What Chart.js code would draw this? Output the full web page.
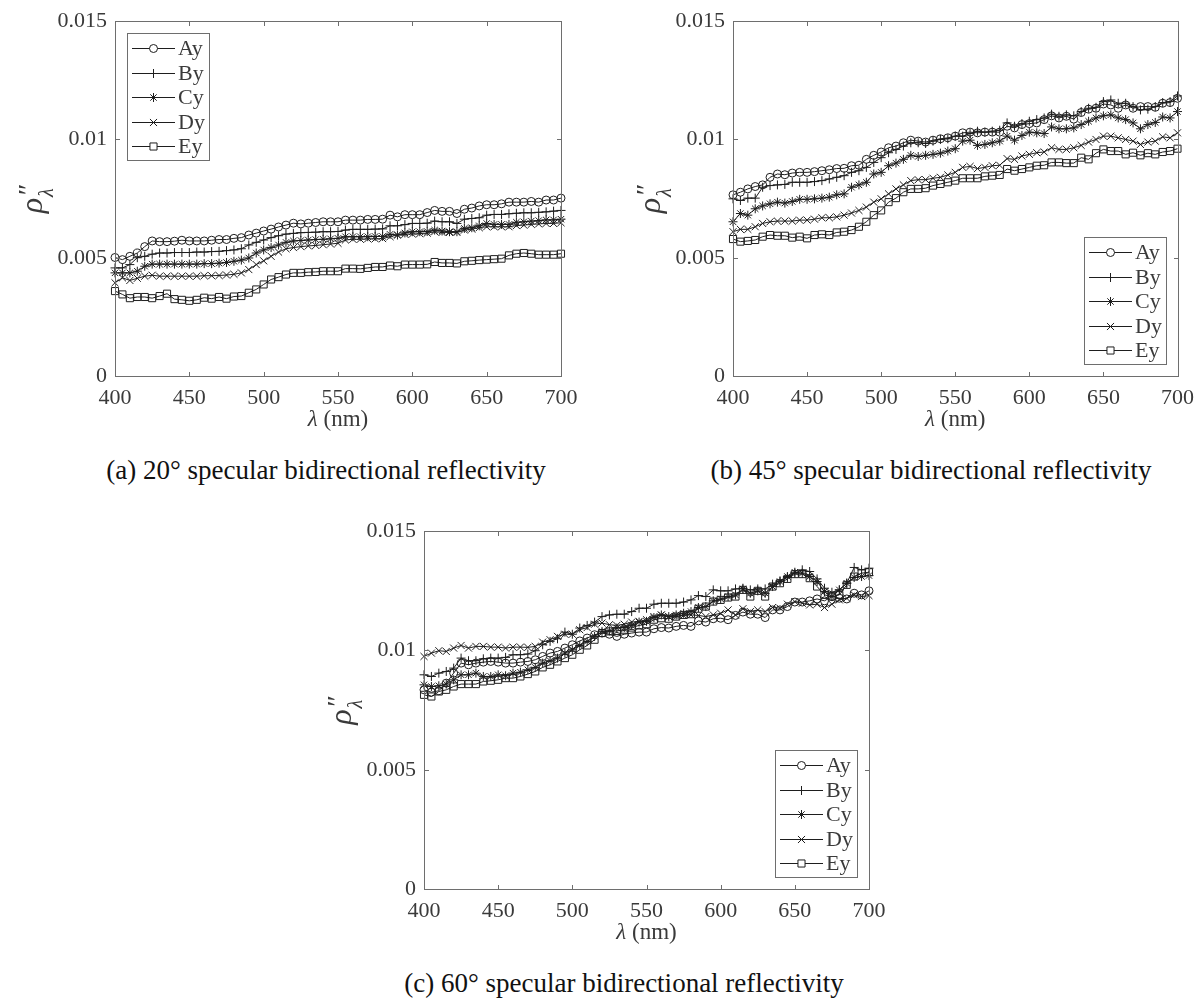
<!DOCTYPE html>
<html>
<head>
<meta charset="utf-8">
<title>Specular bidirectional reflectivity</title>
<script src="https://cdn.jsdelivr.net/npm/chart.js@4.4.1/dist/chart.umd.min.js"></script>
<style>
    html, body { margin: 0; padding: 0; background: #fff; }
    #page {
        position: relative;
        width: 1203px;
        height: 1003px;
        overflow: hidden;
        font-family: 'Liberation Serif', 'Times New Roman', serif;
    }
    #page canvas { position: absolute; }
    .caption {
        position: absolute;
        font-size: 27px;
        line-height: 30px;
        color: #111;
        white-space: nowrap;
        transform: translateX(-50%);
    }
</style>
</head>
<body>
<div id="page">
    <canvas id="chartA" width="600" height="440" style="left:0px;top:0px"></canvas>
    <canvas id="chartB" width="603" height="440" style="left:600px;top:0px"></canvas>
    <canvas id="chartC" width="600" height="440" style="left:300px;top:510px"></canvas>
    <div class="caption" style="left:326px;top:455px">(a) 20° specular bidirectional reflectivity</div>
    <div class="caption" style="left:931px;top:455px">(b) 45° specular bidirectional reflectivity</div>
    <div class="caption" style="left:624px;top:968px">(c) 60° specular bidirectional reflectivity</div>
</div>

<script>
/**
 * Spectral specular bidirectional reflectivity, samples A-E (y polarisation)
 */

// Wavelengths (nm)
const WAVELENGTHS = [
    400, 405, 410, 415, 420, 425, 430, 435, 440, 445, 450, 455, 460, 465, 470, 475,
    480, 485, 490, 495, 500, 505, 510, 515, 520, 525, 530, 535, 540, 545, 550, 555,
    560, 565, 570, 575, 580, 585, 590, 595, 600, 605, 610, 615, 620, 625, 630, 635,
    640, 645, 650, 655, 660, 665, 670, 675, 680, 685, 690, 695, 700
];

const SERIES_LABELS = ['Ay', 'By', 'Cy', 'Dy', 'Ey'];

const X_TICKS = [400, 450, 500, 550, 600, 650, 700];
const Y_TICKS = [0, 0.005, 0.01, 0.015];
const Y_TICK_LABELS = ['0', '0.005', '0.01', '0.015'];

// (a) 20 deg
const A20_AY = [.00501,.00492,.00506,.00520,.00547,.00571,.00568,.00568,.00570,.00574,.00571,.00571,.00571,.00574,.00577,.00577,
    .00582,.00585,.00596,.00604,.00613,.00621,.00630,.00638,.00646,.00643,.00646,.00649,.00652,.00652,.00652,.00659,
    .00659,.00659,.00662,.00662,.00663,.00680,.00673,.00682,.00682,.00682,.00691,.00700,.00696,.00696,.00687,.00705,
    .00710,.00719,.00724,.00724,.00728,.00735,.00735,.00735,.00738,.00735,.00744,.00744,.00752];
const A20_BY = [.00457,.00457,.00471,.00500,.00506,.00515,.00520,.00520,.00522,.00522,.00522,.00524,.00524,.00526,.00527,.00530,
    .00533,.00538,.00554,.00565,.00575,.00585,.00593,.00600,.00603,.00606,.00607,.00608,.00610,.00610,.00611,.00617,
    .00620,.00620,.00620,.00621,.00622,.00635,.00635,.00640,.00645,.00645,.00646,.00655,.00652,.00652,.00645,.00663,
    .00666,.00669,.00680,.00683,.00683,.00686,.00688,.00690,.00690,.00692,.00694,.00697,.00700];
const A20_CY = [.00436,.00436,.00436,.00443,.00464,.00473,.00473,.00473,.00473,.00473,.00473,.00473,.00475,.00475,.00477,.00480,
    .00485,.00490,.00499,.00520,.00533,.00543,.00554,.00565,.00571,.00573,.00575,.00577,.00578,.00580,.00582,.00589,
    .00589,.00589,.00589,.00590,.00590,.00599,.00596,.00605,.00610,.00610,.00611,.00617,.00613,.00610,.00610,.00624,
    .00627,.00635,.00645,.00641,.00641,.00641,.00650,.00652,.00655,.00657,.00660,.00660,.00663];
const A20_DY = [.00394,.00415,.00404,.00413,.00422,.00426,.00422,.00422,.00422,.00422,.00422,.00422,.00424,.00424,.00425,.00427,
    .00430,.00436,.00450,.00471,.00487,.00506,.00524,.00538,.00543,.00547,.00550,.00552,.00555,.00558,.00561,.00575,
    .00578,.00578,.00580,.00580,.00581,.00589,.00596,.00599,.00600,.00602,.00604,.00610,.00607,.00607,.00607,.00617,
    .00621,.00627,.00631,.00631,.00631,.00631,.00636,.00638,.00641,.00643,.00645,.00645,.00648];
const A20_EY = [.00359,.00345,.00329,.00334,.00334,.00329,.00338,.00348,.00325,.00322,.00318,.00322,.00331,.00327,.00334,.00327,
    .00336,.00338,.00352,.00366,.00387,.00408,.00418,.00429,.00436,.00436,.00439,.00440,.00443,.00443,.00443,.00454,
    .00454,.00453,.00457,.00461,.00461,.00467,.00464,.00471,.00471,.00471,.00472,.00482,.00478,.00478,.00476,.00485,
    .00487,.00490,.00492,.00494,.00496,.00510,.00517,.00520,.00517,.00513,.00513,.00513,.00517];

// (b) 45 deg
const B45_AY = [.00766,.00777,.00791,.00801,.00808,.00840,.00854,.00851,.00858,.00861,.00861,.00864,.00868,.00872,.00877,.00878,
    .00889,.00891,.00916,.00933,.00947,.00965,.00972,.00986,.00997,.00993,.00989,.00997,.01003,.01007,.01014,.01028,
    .01031,.01028,.01031,.01031,.01031,.01056,.01049,.01063,.01067,.01070,.01084,.01100,.01091,.01098,.01086,.01114,
    .01128,.01132,.01150,.01146,.01132,.01146,.01132,.01139,.01139,.01136,.01153,.01156,.01174];
const B45_BY = [.00749,.00742,.00752,.00752,.00798,.00805,.00808,.00810,.00819,.00819,.00819,.00822,.00826,.00833,.00840,.00847,
    .00861,.00868,.00882,.00903,.00923,.00944,.00958,.00972,.00986,.00986,.00983,.00993,.01000,.01003,.01014,.01014,
    .01025,.01035,.01031,.01035,.01039,.01070,.01056,.01067,.01077,.01084,.01091,.01107,.01098,.01104,.01100,.01118,
    .01132,.01136,.01160,.01167,.01153,.01153,.01139,.01125,.01128,.01139,.01156,.01160,.01184];
const B45_CY = [.00652,.00687,.00680,.00707,.00719,.00728,.00735,.00731,.00738,.00747,.00747,.00749,.00752,.00756,.00766,.00770,
    .00798,.00808,.00819,.00854,.00861,.00889,.00900,.00916,.00933,.00928,.00933,.00937,.00942,.00951,.00961,.00993,
    .00997,.00975,.00979,.00986,.00993,.01014,.00997,.01017,.01031,.01028,.01025,.01053,.01045,.01045,.01049,.01063,
    .01077,.01091,.01100,.01104,.01091,.01084,.01070,.01045,.01063,.01072,.01095,.01091,.01118];
const B45_DY = [.00610,.00620,.00620,.00631,.00645,.00652,.00655,.00655,.00655,.00659,.00659,.00663,.00669,.00669,.00673,.00680,
    .00689,.00700,.00714,.00735,.00749,.00770,.00791,.00808,.00826,.00830,.00830,.00836,.00840,.00850,.00861,.00882,
    .00886,.00877,.00882,.00889,.00891,.00919,.00916,.00930,.00937,.00944,.00947,.00965,.00958,.00958,.00965,.00975,
    .00989,.01000,.01014,.01014,.01007,.01000,.00993,.00979,.00989,.00993,.01011,.01007,.01028];
const B45_EY = [.00579,.00568,.00571,.00575,.00589,.00596,.00593,.00593,.00585,.00589,.00582,.00596,.00599,.00596,.00607,.00610,
    .00617,.00631,.00652,.00680,.00700,.00735,.00752,.00777,.00791,.00791,.00794,.00805,.00812,.00819,.00826,.00836,
    .00836,.00836,.00844,.00847,.00850,.00875,.00868,.00875,.00882,.00889,.00891,.00903,.00903,.00900,.00900,.00923,
    .00916,.00942,.00958,.00951,.00951,.00937,.00944,.00933,.00942,.00937,.00947,.00951,.00961];

// (c) 60 deg
const C60_AY = [.00835,.00825,.00831,.00863,.00905,.00947,.00940,.00947,.00951,.00954,.00951,.00947,.00947,.00951,.00954,.00961,
    .00975,.00989,.00996,.01010,.01024,.01040,.01052,.01066,.01073,.01068,.01059,.01068,.01073,.01077,.01077,.01091,
    .01096,.01094,.01101,.01105,.01101,.01124,.01119,.01133,.01135,.01129,.01147,.01161,.01152,.01152,.01138,.01170,
    .01170,.01184,.01203,.01203,.01208,.01216,.01208,.01226,.01219,.01216,.01240,.01233,.01250];
const C60_BY = [.00898,.00891,.00905,.00912,.00926,.00968,.00957,.00957,.00965,.00968,.00968,.00971,.00982,.00982,.00985,.00999,
    .01024,.01038,.01049,.01077,.01068,.01094,.01105,.01119,.01142,.01149,.01152,.01152,.01163,.01177,.01177,.01194,
    .01198,.01198,.01198,.01203,.01212,.01230,.01226,.01254,.01250,.01250,.01258,.01261,.01254,.01258,.01258,.01278,
    .01292,.01306,.01324,.01338,.01331,.01300,.01261,.01244,.01254,.01282,.01348,.01338,.01345];
const C60_CY = [.00856,.00849,.00852,.00859,.00877,.00898,.00898,.00905,.00891,.00891,.00898,.00894,.00905,.00909,.00919,.00929,
    .00947,.00957,.00968,.00989,.01003,.01021,.01038,.01059,.01080,.01082,.01094,.01096,.01105,.01119,.01122,.01138,
    .01149,.01142,.01149,.01156,.01163,.01180,.01184,.01208,.01216,.01226,.01233,.01258,.01240,.01250,.01240,.01268,
    .01289,.01310,.01328,.01324,.01310,.01289,.01247,.01226,.01254,.01282,.01306,.01310,.01314];
const C60_DY = [.00975,.00989,.00999,.00996,.01010,.01021,.01010,.01017,.01017,.01014,.01014,.01010,.01014,.01014,.01013,.01017,
    .01035,.01045,.01059,.01068,.01068,.01087,.01096,.01110,.01115,.01108,.01105,.01110,.01119,.01122,.01129,.01142,
    .01149,.01142,.01142,.01147,.01149,.01147,.01142,.01149,.01156,.01170,.01149,.01175,.01163,.01170,.01163,.01180,
    .01177,.01194,.01205,.01198,.01191,.01194,.01180,.01194,.01212,.01219,.01233,.01226,.01230];
const C60_EY = [.00814,.00807,.00828,.00835,.00849,.00859,.00859,.00859,.00870,.00873,.00877,.00884,.00884,.00891,.00901,.00912,
    .00929,.00940,.00954,.00968,.00982,.01003,.01021,.01045,.01073,.01080,.01082,.01087,.01096,.01105,.01110,.01129,
    .01135,.01133,.01142,.01149,.01152,.01175,.01184,.01205,.01212,.01222,.01226,.01254,.01226,.01250,.01226,.01268,
    .01282,.01300,.01320,.01320,.01303,.01268,.01233,.01226,.01233,.01275,.01310,.01324,.01328];

// Styling
const LINE_COLOR = '#1e1e1e';
const AXIS_COLOR = '#6e6e6e';
const TEXT_COLOR = '#3a3a3a';
const FONT_FAMILY = "'Liberation Serif', 'Times New Roman', serif";
const TICK_LEN = 4.5;

// Marker per sample: o, +, *, x, square
const MARKERS = [
    { style: 'circle', radius: 4 },
    { style: 'cross', radius: 4.5 },
    { style: 'star', radius: 4.5 },
    { style: 'crossRot', radius: 5 },
    { style: 'rect', radius: 5 }
];

/**
 * Draw a marker (uses Chart.js helper when available)
 */
function drawMarker(ctx, style, radius, x, y) {
    if (Chart.helpers && Chart.helpers.drawPoint) {
        Chart.helpers.drawPoint(ctx, { pointStyle: style, radius: radius, borderWidth: 1, rotation: 0 }, x, y);
        return;
    }
    ctx.beginPath();
    ctx.arc(x, y, radius, 0, Math.PI * 2);
    ctx.stroke();
}

/**
 * Frame plugin: box, inward ticks, axis titles and the boxed legend
 */
const framePlugin = {
    id: 'frame',
    afterDraw(chart, args, opts) {
        const { ctx, chartArea: a, scales } = chart;
        const L = Math.round(a.left) + 0.5, R = Math.round(a.right) + 0.5;
        const T = Math.round(a.top) + 0.5, B = Math.round(a.bottom) + 0.5;

        ctx.save();
        ctx.strokeStyle = AXIS_COLOR;
        ctx.lineWidth = 1;
        ctx.strokeRect(L, T, R - L, B - T);

        // inward ticks on all four sides
        ctx.beginPath();
        X_TICKS.slice(1, -1).forEach(v => {
            const px = Math.round(scales.x.getPixelForValue(v)) + 0.5;
            ctx.moveTo(px, B); ctx.lineTo(px, B - TICK_LEN);
            ctx.moveTo(px, T); ctx.lineTo(px, T + TICK_LEN);
        });
        Y_TICKS.slice(1, -1).forEach(v => {
            const py = Math.round(scales.y.getPixelForValue(v)) + 0.5;
            ctx.moveTo(L, py); ctx.lineTo(L + TICK_LEN, py);
            ctx.moveTo(R, py); ctx.lineTo(R - TICK_LEN, py);
        });
        ctx.stroke();

        // x title: italic lambda + (nm)
        ctx.fillStyle = TEXT_COLOR;
        ctx.textBaseline = 'middle';
        ctx.textAlign = 'left';
        ctx.font = 'italic 23px ' + FONT_FAMILY;
        const wl = ctx.measureText('λ').width;
        ctx.font = '23px ' + FONT_FAMILY;
        const wn = ctx.measureText(' (nm)').width;
        const xc = (a.left + a.right) / 2;
        const xy = a.bottom + 44;
        ctx.font = 'italic 23px ' + FONT_FAMILY;
        ctx.fillText('λ', xc - (wl + wn) / 2, xy);
        ctx.font = '23px ' + FONT_FAMILY;
        ctx.fillText(' (nm)', xc - (wl + wn) / 2 + wl, xy);

        // y title: rho'' with subscript lambda, rotated
        ctx.save();
        ctx.translate(a.left - 78, (a.top + a.bottom) / 2);
        ctx.rotate(-Math.PI / 2);
        ctx.textBaseline = 'alphabetic';
        ctx.font = 'italic 32px ' + FONT_FAMILY;
        const wr = ctx.measureText('ρ').width;
        const x0 = -(wr + 14) / 2;
        ctx.fillText('ρ', x0, 5);
        ctx.font = 'italic 28px ' + FONT_FAMILY;
        ctx.fillText('″', x0 + wr + 1, 0);
        ctx.font = 'italic 20px ' + FONT_FAMILY;
        ctx.fillText('λ', x0 + wr + 1, 16);
        ctx.restore();

        // legend
        const w = 82, h = 127, m = 12;
        const lx = opts.corner === 'nw' ? Math.round(a.left + m) : Math.round(a.right - m - w);
        const ly = opts.corner === 'nw' ? Math.round(a.top + m) : Math.round(a.bottom - m - h);
        ctx.fillStyle = '#fff';
        ctx.fillRect(lx, ly, w, h);
        ctx.strokeStyle = AXIS_COLOR;
        ctx.strokeRect(lx + 0.5, ly + 0.5, w, h);
        ctx.font = '22px ' + FONT_FAMILY;
        ctx.textBaseline = 'middle';
        chart.data.datasets.forEach((ds, i) => {
            const yy = Math.round(ly + 15 + i * 24.5) + 0.5;
            ctx.strokeStyle = LINE_COLOR;
            ctx.lineWidth = 1;
            ctx.beginPath();
            ctx.moveTo(lx + 5, yy);
            ctx.lineTo(lx + 48, yy);
            ctx.stroke();
            ctx.fillStyle = '#fff';
            drawMarker(ctx, ds.pointStyle, ds.pointRadius, lx + 26.5, yy);
            ctx.fillStyle = TEXT_COLOR;
            ctx.fillText(ds.label, lx + 51, yy + 1);
        });
        ctx.restore();
    }
};

/**
 * Create one reflectivity panel
 */
function createPanel(id, series, layout) {
    const canvas = document.getElementById(id);
    if (!canvas) return null;

    const tickFont = { family: FONT_FAMILY, size: 22 };

    return new Chart(canvas, {
        type: 'line',
        data: {
            datasets: series.map((vals, i) => ({
                label: SERIES_LABELS[i],
                data: WAVELENGTHS.map((w, j) => ({ x: w, y: vals[j] })),
                borderColor: LINE_COLOR,
                borderWidth: 1,
                pointStyle: MARKERS[i].style,
                pointRadius: MARKERS[i].radius,
                pointBorderColor: LINE_COLOR,
                pointBackgroundColor: 'rgba(0,0,0,0)',
                pointBorderWidth: 1,
                tension: 0,
                clip: false
            }))
        },
        options: {
            responsive: false,
            animation: false,
            devicePixelRatio: 1,
            events: [],
            layout: {
                padding: { top: layout.top, right: layout.right, left: 0, bottom: 0 }
            },
            plugins: {
                legend: { display: false },
                tooltip: { enabled: false },
                frame: { corner: layout.legend }
            },
            scales: {
                x: {
                    type: 'linear',
                    min: 400,
                    max: 700,
                    grid: { display: false, drawTicks: false },
                    border: { display: false },
                    ticks: {
                        font: tickFont,
                        color: TEXT_COLOR,
                        padding: 9,
                        maxRotation: 0,
                        callback: v => String(v)
                    },
                    afterBuildTicks: s => { s.ticks = X_TICKS.map(v => ({ value: v })); },
                    afterFit: s => { s.height = layout.xHeight; }
                },
                y: {
                    type: 'linear',
                    min: 0,
                    max: 0.015,
                    grid: { display: false, drawTicks: false },
                    border: { display: false },
                    ticks: {
                        font: tickFont,
                        color: TEXT_COLOR,
                        padding: 8,
                        callback: v => {
                            const k = Y_TICKS.indexOf(v);
                            return k >= 0 ? Y_TICK_LABELS[k] : '';
                        }
                    },
                    afterBuildTicks: s => { s.ticks = Y_TICKS.map(v => ({ value: v })); },
                    afterFit: s => { s.width = layout.yWidth; }
                }
            }
        },
        plugins: [framePlugin]
    });
}

document.addEventListener('DOMContentLoaded', () => {
    createPanel('chartA', [A20_AY, A20_BY, A20_CY, A20_DY, A20_EY],
        { top: 17, right: 39, yWidth: 115, xHeight: 64, legend: 'nw' });
    createPanel('chartB', [B45_AY, B45_BY, B45_CY, B45_DY, B45_EY],
        { top: 17, right: 24, yWidth: 133, xHeight: 64, legend: 'se' });
    createPanel('chartC', [C60_AY, C60_BY, C60_CY, C60_DY, C60_EY],
        { top: 20, right: 31, yWidth: 124, xHeight: 61, legend: 'se' });
});
</script>
</body>
</html>
